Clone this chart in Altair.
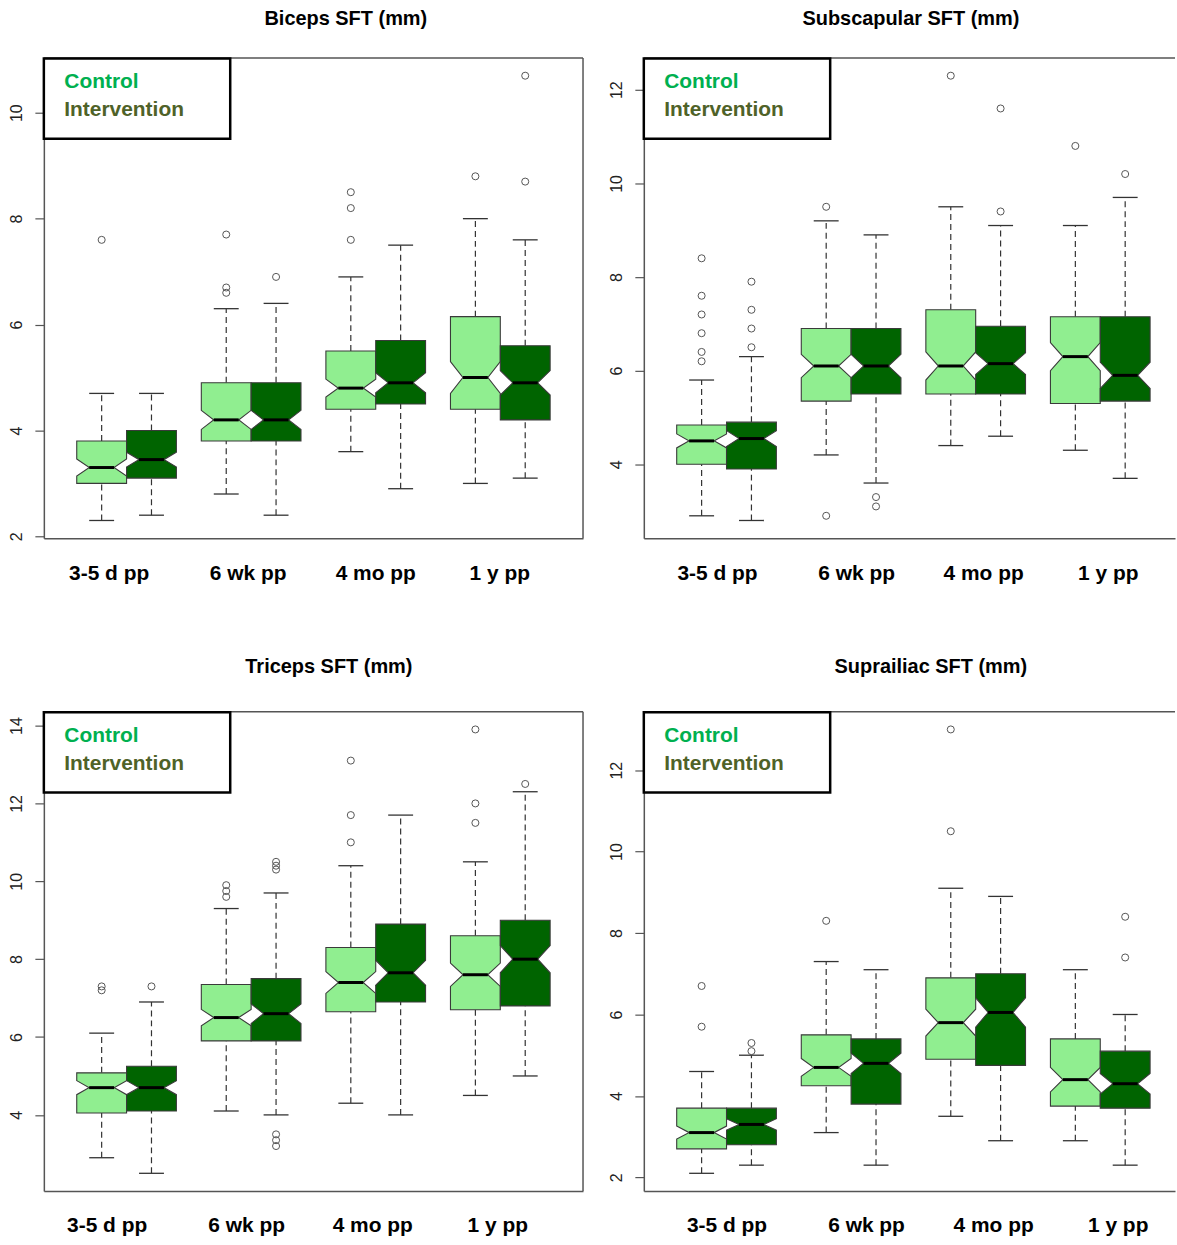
import math
import altair as alt
import pandas as pd

# ---------------- data ----------------
panel_titles = ["Biceps SFT (mm)", "Subscapular SFT (mm)", "Triceps SFT (mm)", "Suprailiac SFT (mm)"]
timepoints = ["3-5 d pp", "6 wk pp", "4 mo pp", "1 y pp"]
groups = ["Control", "Intervention"]

# boxes in order: t1-Control, t1-Intervention, t2-Control, ...
biceps_low = [2.3, 2.4, 2.8, 2.4, 3.6, 2.9, 3.0, 3.1]
biceps_q1 = [3.0, 3.1, 3.8, 3.8, 4.4, 4.5, 4.4, 4.2]
biceps_med = [3.3, 3.45, 4.2, 4.2, 4.8, 4.9, 5.0, 4.9]
biceps_q3 = [3.8, 4.0, 4.9, 4.9, 5.5, 5.7, 6.15, 5.6]
biceps_high = [4.7, 4.7, 6.3, 6.4, 6.9, 7.5, 8.0, 7.6]
biceps_notch = [0.16, 0.14, 0.18, 0.18, 0.17, 0.19, 0.30, 0.23]
biceps_outliers = [[7.6], [], [7.7, 6.7, 6.6], [6.9], [8.5, 8.2, 7.6], [], [8.8], [10.7, 8.7]]
biceps_label_at = [1.14, 3.93, 6.49, 8.98]

subscap_low = [2.9, 2.8, 4.2, 3.6, 4.4, 4.6, 4.3, 3.7]
subscap_q1 = [4.0, 3.9, 5.35, 5.5, 5.5, 5.5, 5.3, 5.35]
subscap_med = [4.5, 4.55, 6.1, 6.1, 6.1, 6.15, 6.3, 5.9]
subscap_q3 = [4.84, 4.9, 6.9, 6.9, 7.3, 6.95, 7.15, 7.15]
subscap_high = [5.8, 6.3, 9.2, 8.9, 9.5, 9.1, 9.1, 9.7]
subscap_notch = [0.15, 0.17, 0.25, 0.25, 0.30, 0.23, 0.30, 0.28]
subscap_outliers = [[8.4, 7.6, 7.2, 6.8, 6.4, 6.2], [7.9, 7.3, 6.9, 6.5], [9.5, 2.9], [3.3, 3.1],
                    [12.3], [11.6, 9.4], [10.8], [10.2]]
subscap_label_at = [1.31, 4.1, 6.65, 9.15]

triceps_low = [2.9, 2.5, 4.1, 4.0, 4.3, 4.0, 4.5, 5.0]
triceps_q1 = [4.05, 4.1, 5.9, 5.9, 6.65, 6.9, 6.7, 6.8]
triceps_med = [4.7, 4.7, 6.5, 6.6, 7.4, 7.65, 7.6, 8.0]
triceps_q3 = [5.08, 5.25, 7.35, 7.5, 8.3, 8.9, 8.6, 9.0]
triceps_high = [6.1, 6.9, 9.3, 9.7, 10.4, 11.7, 10.5, 12.3]
triceps_notch = [0.18, 0.18, 0.21, 0.25, 0.28, 0.32, 0.30, 0.35]
triceps_outliers = [[7.3, 7.2], [7.3], [9.9, 9.75, 9.6], [10.5, 10.4, 10.3, 3.5, 3.35, 3.2],
                    [13.1, 11.7, 11.0], [], [13.9, 12.0, 11.5], [12.5]]
triceps_label_at = [1.10, 3.9, 6.43, 8.94]

suprail_low = [2.1, 2.3, 3.1, 2.3, 3.5, 2.9, 2.9, 2.3]
suprail_q1 = [2.7, 2.8, 4.25, 3.8, 4.9, 4.75, 3.75, 3.7]
suprail_med = [3.1, 3.3, 4.7, 4.8, 5.8, 6.05, 4.4, 4.3]
suprail_q3 = [3.7, 3.7, 5.5, 5.4, 6.9, 7.0, 5.4, 5.1]
suprail_high = [4.6, 5.0, 7.3, 7.1, 9.1, 8.9, 7.1, 6.0]
suprail_notch = [0.16, 0.14, 0.22, 0.25, 0.33, 0.36, 0.30, 0.25]
suprail_outliers = [[6.7, 5.7], [5.3, 5.1], [8.3], [], [13.0, 10.5], [], [], [8.4, 7.4]]
suprail_label_at = [1.5, 4.3, 6.85, 9.35]

# ---------------- styling ----------------
BOX_FILLS = ["#90ee90", "#006400"]
LEGEND_TEXT_COLORS = ["#00b050", "#4f6228"]
FONT = "Liberation Sans"
FRAME = "#555555"
BOX_HALF = 0.5
NOTCH_INNER = 0.25
CAP_HALF = 0.25
PX_PER_UNIT = 50
X_START = -0.16


def box_position(k):
    return 1 + 2.5 * (k // 2) + (k % 2)


def make_panel(title, low, q1, med, q3, high, notch, outliers, label_at,
               width, height, title_dx, title_offset, right_border):
    stats_rows, area_rows, out_rows = [], [], []
    for k in range(8):
        pos = box_position(k)
        grp = groups[k % 2]
        stats_rows.append(dict(box=k, group=grp, pos=pos,
                               cap_l=pos - CAP_HALF, cap_r=pos + CAP_HALF,
                               med_l=pos - NOTCH_INNER, med_r=pos + NOTCH_INNER,
                               low=low[k], q1=q1[k], med=med[k], q3=q3[k], high=high[k]))
        L, R = pos - BOX_HALF, pos + BOX_HALF
        xs_pts = [L, pos - NOTCH_INNER, pos + NOTCH_INNER, R]
        nlo, nhi = med[k] - notch[k], med[k] + notch[k]
        # lower half of the notched box: from Q1 up to the notch outline
        for xv, yb in zip(xs_pts, [nlo, med[k], med[k], nlo]):
            area_rows.append(dict(piece="%d-lo" % k, group=grp, x=xv, ya=q1[k], yb=yb))
        # upper half: from the notch outline up to Q3
        for xv, ya in zip(xs_pts, [nhi, med[k], med[k], nhi]):
            area_rows.append(dict(piece="%d-hi" % k, group=grp, x=xv, ya=ya, yb=q3[k]))
        for v in outliers[k]:
            out_rows.append(dict(box=k, group=grp, pos=pos, value=v))
    stats = pd.DataFrame(stats_rows)
    area = pd.DataFrame(area_rows)
    outs = pd.DataFrame(out_rows)

    allv = list(low) + list(high) + [v for o in outliers for v in o]
    lo, hi = min(allv), max(allv)
    pad = 0.04 * (hi - lo)
    ylo, yhi = lo - pad, hi + pad
    yticks = list(range(math.ceil(ylo / 2) * 2, math.floor(yhi) + 1, 2))

    xsc = alt.Scale(domain=[X_START, X_START + width / PX_PER_UNIT], nice=False, zero=False)
    ysc = alt.Scale(domain=[ylo, yhi], nice=False, zero=False)

    label_expr = ("datum.value < 2.5 ? '%s' : datum.value < 5 ? '%s' : datum.value < 7.5 ? '%s' : '%s'"
                  % tuple(timepoints))
    xaxis = alt.Axis(values=label_at, labelExpr=label_expr, ticks=False, tickSize=0,
                     labelPadding=35, labelBaseline="middle", labelAlign="center",
                     labelFont=FONT, labelFontSize=21, labelFontWeight="bold", labelColor="black",
                     labelFlush=False, labelOverlap=False, grid=False, title=None,
                     domain=True, domainColor=FRAME, domainWidth=1.5)
    yaxis = alt.Axis(values=yticks, labelAngle=270, labelAlign="center", labelBaseline="middle",
                     labelPadding=18.5, tickSize=9, tickColor=FRAME, tickWidth=1.2,
                     labelFont=FONT, labelFontSize=16, labelColor="#222222",
                     grid=False, title=None, domain=True, domainColor=FRAME, domainWidth=1.5)

    def X(f):
        return alt.X(f, scale=xsc, axis=xaxis)

    def Y(f):
        return alt.Y(f, scale=ysc, axis=yaxis)

    base = alt.Chart(stats)
    dash = dict(color="#333333", strokeWidth=1.2, strokeDash=[6, 4])
    upper = base.mark_rule(**dash).encode(x=X("pos:Q"), y=Y("q3:Q"), y2="high:Q")
    lower = base.mark_rule(**dash).encode(x=X("pos:Q"), y=Y("low:Q"), y2="q1:Q")
    cap_hi = base.mark_rule(color="#333333", strokeWidth=1.3).encode(
        x=X("cap_l:Q"), x2="cap_r:Q", y=Y("high:Q"))
    cap_lo = base.mark_rule(color="#333333", strokeWidth=1.3).encode(
        x=X("cap_l:Q"), x2="cap_r:Q", y=Y("low:Q"))

    boxes = alt.Chart(area).mark_area(stroke="#3a3a3a", strokeWidth=1.1, opacity=1).encode(
        x=X("x:Q"),
        y=alt.Y("ya:Q", scale=ysc, axis=yaxis, stack=False),
        y2="yb:Q",
        fill=alt.Fill("group:N", scale=alt.Scale(domain=groups, range=BOX_FILLS), legend=None),
        detail="piece:N",
    )
    median = base.mark_rule(color="black", strokeWidth=3).encode(
        x=X("med_l:Q"), x2="med_r:Q", y=Y("med:Q"))
    points = alt.Chart(outs).mark_point(shape="circle", filled=False, size=50, color="#555555",
                                        strokeWidth=1, opacity=1).encode(
        x=X("pos:Q"), y=Y("value:Q"))

    one = pd.DataFrame({"k": [0]})
    top = alt.Chart(one).mark_rule(color=FRAME, strokeWidth=1.5).encode(
        x=alt.value(0), x2=alt.value(width), y=alt.value(0))
    layers = [upper, lower, cap_hi, cap_lo, boxes, median, points, top]
    if right_border:
        layers.append(alt.Chart(one).mark_rule(color=FRAME, strokeWidth=1.5).encode(
            x=alt.value(width), y=alt.value(0), y2=alt.value(height)))

    legend_box = alt.Chart(one).mark_rect(fill="white", stroke="black", strokeWidth=2.5).encode(
        x=alt.value(0), x2=alt.value(187), y=alt.value(0.5), y2=alt.value(81))
    layers.append(legend_box)
    for i, g in enumerate(groups):
        layers.append(alt.Chart(pd.DataFrame({"group": [g]})).mark_text(
            align="left", baseline="middle", font=FONT, fontSize=21, fontWeight="bold").encode(
            x=alt.value(20.5), y=alt.value(24.5 + 28.2 * i), text="group:N",
            color=alt.Color("group:N", scale=alt.Scale(domain=groups, range=LEGEND_TEXT_COLORS),
                            legend=None)))

    return alt.layer(*layers).properties(
        width=width, height=height,
        title=alt.TitleParams(text=title, fontSize=20, fontWeight="bold", font=FONT, color="black",
                              anchor="middle", frame="group", dx=title_dx, offset=title_offset))


p1 = make_panel(panel_titles[0], biceps_low, biceps_q1, biceps_med, biceps_q3, biceps_high,
                biceps_notch, biceps_outliers, biceps_label_at, 541, 482, 32.5, 28, True)
p2 = make_panel(panel_titles[1], subscap_low, subscap_q1, subscap_med, subscap_q3, subscap_high,
                subscap_notch, subscap_outliers, subscap_label_at, 533, 482, 1.5, 28, False)
p3 = make_panel(panel_titles[2], triceps_low, triceps_q1, triceps_med, triceps_q3, triceps_high,
                triceps_notch, triceps_outliers, triceps_label_at, 541, 481, 15.5, 34, True)
p4 = make_panel(panel_titles[3], suprail_low, suprail_q1, suprail_med, suprail_q3, suprail_high,
                suprail_notch, suprail_outliers, suprail_label_at, 533, 481, 21.5, 34, False)

chart = alt.vconcat(
    alt.hconcat(p1, p2, spacing=22),
    alt.hconcat(p3, p4, spacing=22),
    spacing=72,
).properties(
    padding={"left": 7, "top": 6, "right": 0, "bottom": 0},
    background="white",
).configure_view(stroke="transparent")

chart.save("out.html", embed_options={"renderer": "svg", "actions": False})
